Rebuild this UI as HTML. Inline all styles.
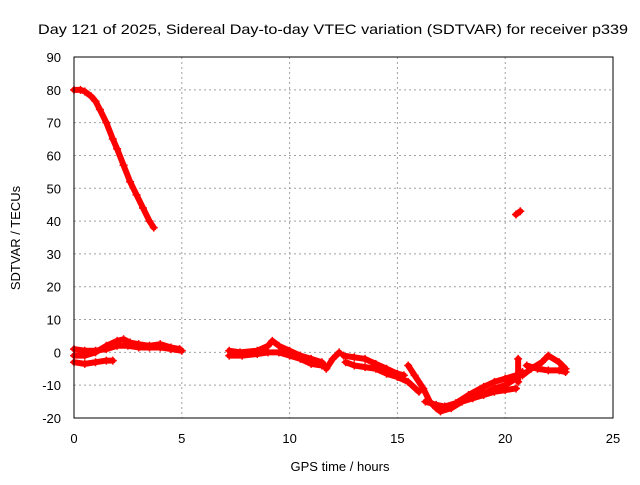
<!DOCTYPE html>
<html><head><meta charset="utf-8"><style>
body{margin:0;background:#fff;font-family:"Liberation Sans",sans-serif}
svg text{font-family:"Liberation Sans",sans-serif;font-size:13px;fill:#000}
</style></head><body>
<svg id="chart" width="640" height="480" xmlns="http://www.w3.org/2000/svg">
<rect width="640" height="480" fill="#fff"/>
<g id="grid"></g>
<g id="series"></g>
<rect x="74" y="57" width="539" height="361" fill="none" stroke="#000" stroke-width="1"/>
<g id="ticks"></g>
<text x="38" y="34" style="font-size:14px" textLength="590" lengthAdjust="spacingAndGlyphs">Day 121 of 2025, Sidereal Day-to-day VTEC variation (SDTVAR) for receiver p339</text>
<text x="340" y="471" text-anchor="middle">GPS time / hours</text>
<text transform="translate(20,238) rotate(-90)" text-anchor="middle">SDTVAR / TECUs</text>
</svg>
<script>
const xTicks=[0,5,10,15,20,25];
const yTicks=[-20,-10,0,10,20,30,40,50,60,70,80,90];
const trackHigh=[[0,80],[0.3,80],[0.5,79.5],[0.8,78],[1.0,76.5],[1.2,74],[1.5,70],[1.8,65],[2.0,62],[2.3,57],[2.6,52],[2.9,48],[3.2,44],[3.5,40],[3.7,38]];
const trackLate=[[20.5,42],[20.7,43]];
const track1=[[0,-3],[0.5,-3.5],[1,-3],[1.5,-2.5],[1.8,-2.5]];
const track2=[[0,1],[0.5,0.5],[1,0.5],[1.5,1],[2,2],[2.5,2],[3,1.5],[3.5,1.5],[4,1.5],[4.5,1],[5,0.5]];
const track3=[[0,-1],[0.5,-1],[1,0],[1.5,2],[2,3.5],[2.3,4],[2.6,3],[3,2.5],[3.5,2],[4,2.5],[4.5,1.5],[4.9,1]];
const track4=[[7.2,0.5],[7.7,0],[8.5,0.5],[9,2],[9.2,3.5],[9.5,2],[10,0.5],[10.5,-1],[11,-2],[11.5,-3],[11.7,-5],[12,-2],[12.3,0]];
const track5=[[7.2,-1],[7.8,-1],[8.5,-0.5],[9,0],[9.5,0],[10,-1],[10.5,-2],[11,-3.5],[11.5,-4]];
const track6=[[12.5,-1],[13,-1.5],[13.5,-2],[14,-3.5],[14.5,-5],[15,-6.5],[15.3,-7]];
const track7=[[12.6,-3],[13,-4],[13.5,-4.5],[14,-5],[14.5,-6.5],[15,-7.5],[15.5,-9],[16,-12]];
const track8=[[15.5,-4],[15.8,-7],[16.2,-11],[16.5,-15],[16.8,-17],[17,-18],[17.5,-17],[18,-15],[18.5,-14],[19,-13],[19.5,-12],[20,-11.5],[20.5,-11]];
const track9=[[16.3,-15],[16.8,-16],[17.2,-16.5],[17.7,-15.5],[18.3,-13],[19,-10.5],[19.5,-9],[20,-8],[20.5,-7],[20.8,-6]];
const track10=[[18.5,-13],[19,-12.5],[19.5,-11],[20,-10],[20.5,-8]];
const track11=[[20.8,-7],[21.2,-5],[21.7,-3],[22,-1],[22.5,-3],[22.8,-5]];
const track12=[[21,-4],[21.5,-5],[22,-5.5],[22.5,-5.5],[22.8,-6]];
const track13=[[20.6,-2],[20.6,-9]];
const tracks=[trackHigh,trackLate,track1,track2,track3,track4,track5,track6,track7,track8,track9,track10,track11,track12,track13];
const NS="http://www.w3.org/2000/svg";
const X=v=>74+v*(539/25), Y=v=>418-(v+20)*(361/110);
const grid=document.getElementById('grid'),ticks=document.getElementById('ticks'),ser=document.getElementById('series');
function mk(tag,attrs,parent){const e=document.createElementNS(NS,tag);for(const k in attrs)e.setAttribute(k,attrs[k]);parent.appendChild(e);return e;}
xTicks.forEach(t=>{
 if(t>0&&t<25){const g=mk('line',{x1:X(t),x2:X(t),y1:57,y2:418,stroke:'#a0a0a0','stroke-dasharray':'2,3'},grid);
 
 }
 const l=mk('text',{x:X(t),y:443,'text-anchor':'middle'},ticks);l.textContent=t;
 
 
});
yTicks.forEach(t=>{
 if(t>-20&&t<90){const g=mk('line',{x1:74,x2:613,y1:Y(t),y2:Y(t),stroke:'#a0a0a0','stroke-dasharray':'2,3'},grid);
 
 }
 const l=mk('text',{x:61,y:Y(t)+5,'text-anchor':'end'},ticks);l.textContent=t;
 
 
});
tracks.forEach(tr=>{
 const p=mk('polyline',{points:tr.map(d=>X(d[0])+','+Y(d[1])).join(' '),fill:'none',stroke:'#f00','stroke-width':6,'stroke-linejoin':'round','stroke-linecap':'round'},ser);
 
 
 tr.forEach(d=>{const x=X(d[0]),y=Y(d[1]);
  const m=mk('path',{d:`M${x-4},${y}H${x+4}M${x},${y-4}V${y+4}`,stroke:'#f00','stroke-width':1.5},ser);
  
  });
});
</script>
</body></html>
